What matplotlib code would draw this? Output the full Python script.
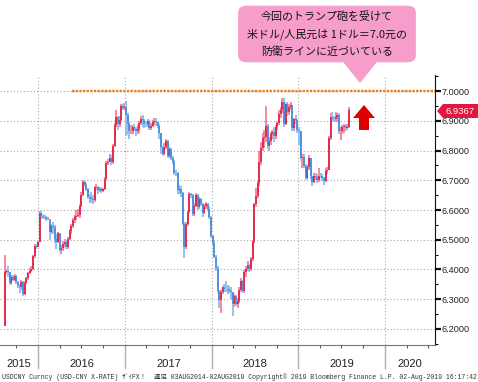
import numpy as np
import pandas as pd
import matplotlib
matplotlib.use('Agg')
from matplotlib import pyplot as plt
from matplotlib.patches import Polygon, FancyBboxPatch
import matplotlib.dates as mdates

# weekly USD/CNY candles, Fridays 14 Aug 2015 .. 2 Aug 2019
weeks = pd.date_range('2015-08-14', '2019-08-02', freq='W-FRI')
first_open = 6.210
close = [
    # 2015
    6.393, 6.394, 6.390, 6.356, 6.376, 6.366, 6.378, 6.357, 6.345, 6.340,
    6.357, 6.318, 6.356, 6.370, 6.389, 6.396, 6.400, 6.445, 6.478, 6.477,
    # 2016
    6.493, 6.590, 6.580, 6.578, 6.576, 6.570, 6.570, 6.525, 6.547, 6.544,
    6.502, 6.492, 6.521, 6.466, 6.472, 6.487, 6.493, 6.476, 6.502, 6.529,
    6.545, 6.565, 6.575, 6.580, 6.582, 6.614, 6.652, 6.693, 6.684, 6.672,
    6.643, 6.645, 6.637, 6.633, 6.678, 6.678, 6.667, 6.669, 6.663, 6.670,
    6.703, 6.759, 6.762, 6.775, 6.761, 6.815, 6.885, 6.912, 6.889, 6.903,
    6.950, 6.944, 6.945,
    # 2017
    6.918, 6.890, 6.867, 6.867, 6.878, 6.873, 6.867, 6.873, 6.894, 6.907,
    6.904, 6.889, 6.888, 6.898, 6.876, 6.884, 6.895, 6.899, 6.895, 6.883,
    6.860, 6.812, 6.790, 6.813, 6.832, 6.780, 6.806, 6.774, 6.763, 6.724,
    6.723, 6.667, 6.672, 6.657, 6.554, 6.475, 6.553, 6.593, 6.653, 6.651,
    6.586, 6.615, 6.651, 6.609, 6.636, 6.621, 6.590, 6.614, 6.621, 6.605,
    6.577, 6.513,
    # 2018
    6.488, 6.443, 6.404, 6.327, 6.296, 6.323, 6.341, 6.335, 6.333, 6.336,
    6.328, 6.325, 6.284, 6.310, 6.284, 6.293, 6.332, 6.362, 6.327, 6.391,
    6.403, 6.416, 6.400, 6.436, 6.491, 6.619, 6.648, 6.690, 6.760, 6.809,
    6.842, 6.844, 6.882, 6.816, 6.833, 6.854, 6.862, 6.850, 6.878, 6.891,
    6.922, 6.936, 6.962, 6.889, 6.956, 6.929, 6.946, 6.954, 6.876, 6.905,
    6.901, 6.868,
    # 2019
    6.864, 6.776, 6.778, 6.749, 6.708, 6.743, 6.774, 6.713, 6.694, 6.715,
    6.711, 6.700, 6.716, 6.713, 6.707, 6.697, 6.732, 6.735, 6.842, 6.914,
    6.906, 6.905, 6.914, 6.918, 6.865, 6.866, 6.879, 6.881, 6.877, 6.880,
    6.937,
]
high = [
    6.450, 6.400, 6.412, 6.392, 6.380, 6.381, 6.385, 6.380, 6.360, 6.352,
    6.365, 6.360, 6.360, 6.375, 6.392, 6.405, 6.412, 6.450, 6.485, 6.485,
    6.497, 6.598, 6.595, 6.585, 6.582, 6.580, 6.575, 6.560, 6.552, 6.560,
    6.548, 6.520, 6.525, 6.520, 6.482, 6.495, 6.502, 6.500, 6.510, 6.535,
    6.552, 6.572, 6.582, 6.600, 6.605, 6.620, 6.660, 6.700, 6.698, 6.690,
    6.675, 6.655, 6.660, 6.650, 6.682, 6.688, 6.682, 6.678, 6.678, 6.675,
    6.710, 6.765, 6.772, 6.790, 6.785, 6.822, 6.892, 6.935, 6.915, 6.915,
    6.958, 6.955, 6.960,
    6.968, 6.925, 6.895, 6.885, 6.885, 6.890, 6.880, 6.885, 6.900, 6.915,
    6.918, 6.905, 6.900, 6.905, 6.902, 6.892, 6.902, 6.908, 6.910, 6.900,
    6.890, 6.860, 6.815, 6.825, 6.840, 6.835, 6.812, 6.810, 6.782, 6.768,
    6.735, 6.728, 6.685, 6.680, 6.660, 6.560, 6.560, 6.600, 6.660, 6.658,
    6.655, 6.625, 6.658, 6.655, 6.645, 6.642, 6.625, 6.620, 6.628, 6.625,
    6.610, 6.580,
    6.515, 6.495, 6.450, 6.410, 6.330, 6.330, 6.345, 6.350, 6.360, 6.348,
    6.345, 6.340, 6.325, 6.318, 6.315, 6.305, 6.340, 6.370, 6.365, 6.398,
    6.410, 6.430, 6.420, 6.442, 6.500, 6.625, 6.675, 6.700, 6.800, 6.830,
    6.860, 6.870, 6.950, 6.890, 6.845, 6.862, 6.870, 6.880, 6.885, 6.900,
    6.935, 6.945, 6.975, 6.975, 6.960, 6.962, 6.955, 6.962, 6.950, 6.910,
    6.920, 6.905,
    6.880, 6.865, 6.790, 6.790, 6.755, 6.750, 6.785, 6.775, 6.715, 6.725,
    6.725, 6.720, 6.740, 6.725, 6.720, 6.712, 6.740, 6.745, 6.850, 6.925,
    6.930, 6.915, 6.930, 6.925, 6.925, 6.880, 6.885, 6.890, 6.888, 6.888,
    6.945,
]
low = [
    6.210, 6.385, 6.375, 6.352, 6.348, 6.360, 6.362, 6.352, 6.338, 6.320,
    6.330, 6.312, 6.315, 6.350, 6.366, 6.385, 6.390, 6.398, 6.440, 6.470,
    6.476, 6.493, 6.570, 6.570, 6.570, 6.562, 6.565, 6.500, 6.520, 6.518,
    6.490, 6.470, 6.488, 6.460, 6.452, 6.462, 6.475, 6.468, 6.470, 6.498,
    6.520, 6.540, 6.555, 6.568, 6.575, 6.572, 6.610, 6.648, 6.680, 6.665,
    6.636, 6.625, 6.625, 6.620, 6.628, 6.668, 6.655, 6.660, 6.658, 6.660,
    6.668, 6.700, 6.750, 6.760, 6.750, 6.755, 6.812, 6.880, 6.870, 6.880,
    6.900, 6.935, 6.935,
    6.850, 6.852, 6.840, 6.855, 6.855, 6.865, 6.850, 6.855, 6.860, 6.885,
    6.880, 6.875, 6.878, 6.880, 6.870, 6.868, 6.880, 6.885, 6.882, 6.875,
    6.840, 6.790, 6.780, 6.785, 6.805, 6.775, 6.775, 6.768, 6.755, 6.718,
    6.715, 6.655, 6.655, 6.645, 6.550, 6.437, 6.470, 6.545, 6.590, 6.640,
    6.580, 6.580, 6.610, 6.600, 6.605, 6.612, 6.575, 6.585, 6.605, 6.600,
    6.570, 6.505,
    6.480, 6.440, 6.395, 6.320, 6.270, 6.255, 6.318, 6.325, 6.325, 6.318,
    6.320, 6.300, 6.243, 6.275, 6.276, 6.270, 6.288, 6.325, 6.320, 6.320,
    6.375, 6.395, 6.393, 6.395, 6.430, 6.488, 6.610, 6.640, 6.680, 6.750,
    6.800, 6.810, 6.830, 6.805, 6.800, 6.820, 6.840, 6.830, 6.840, 6.870,
    6.885, 6.910, 6.925, 6.880, 6.885, 6.915, 6.920, 6.935, 6.865, 6.865,
    6.890, 6.860,
    6.820, 6.765, 6.740, 6.740, 6.700, 6.705, 6.735, 6.705, 6.680, 6.690,
    6.702, 6.690, 6.695, 6.706, 6.698, 6.685, 6.695, 6.720, 6.735, 6.835,
    6.895, 6.895, 6.895, 6.900, 6.855, 6.835, 6.855, 6.860, 6.865, 6.868,
    6.875,
]
last_price = '6.9367'
defence_level = 7.0
defence_start = '2016-05-23'
y_ticks = [6.2, 6.3, 6.4, 6.5, 6.6, 6.7, 6.8, 6.9, 7.0]
years = [2015, 2016, 2017, 2018, 2019, 2020]
bubble_lines = ['今回のトランプ砲を受けて',
                '米ドル/人民元は 1ドル＝7.0元の',
                '防衛ラインに近づいている']
footnote = ('USDCNY Curncy (USD-CNY X-RATE) ｻﾞｲFX！  週足 03AUG2014-02AUG2019 '
            'Copyright© 2019 Bloomberg Finance L.P. 02-Aug-2019 16:17:42')

W, H = 478, 382

def fx(x):
    return x / W

def fy(y):
    return 1 - y / H

close = np.array(close)
high = np.array(high)
low = np.array(low)
opens = np.concatenate([[first_open], close[:-1]])
up = close >= opens

fig = plt.figure(figsize=(W / 100, H / 100), dpi=100)
ax = fig.add_axes([0, fy(345), fx(435), (345 - 75) / H])
x0, x1 = pd.Timestamp('2015-07-25'), pd.Timestamp('2020-07-29')
ax.set_xlim(x0, x1)
ax.set_ylim(6.146, 7.054)

grid = dict(color='#a8a8a8', lw=0.8, ls=(0, (1, 2)), zorder=1)
for v in y_ticks:
    ax.axhline(v, **grid)
for yr in years[1:]:
    d = pd.Timestamp(f'{yr}-01-01')
    ax.axvline(d, **grid)
    ax.axvline(d, ymin=-0.085, ymax=0, color='#b0b0b0', lw=1.0, clip_on=False)

ax.hlines(defence_level, pd.Timestamp(defence_start), x1, color='#ee7d1e',
          lw=1.7, ls=(0, (1, 0.55)), zorder=3)

# candles: light wick, darker body
ax.vlines(weeks[up], low[up], high[up], color='#f28aa0', lw=1.4, zorder=4)
ax.vlines(weeks[~up], low[~up], high[~up], color='#92c2f0', lw=1.4, zorder=4)
ax.vlines(weeks[up], opens[up], close[up], color='#e0103c', lw=1.1, zorder=5)
ax.vlines(weeks[~up], opens[~up], close[~up], color='#3d85dc', lw=1.1, zorder=5)

for s in ['left', 'top']:
    ax.spines[s].set_visible(False)
ax.spines['right'].set_color('#111111')
ax.spines['bottom'].set_color('#777777')
ax.yaxis.tick_right()
ax.set_yticks(y_ticks)
ax.set_yticklabels([f'{v:.4f}' for v in y_ticks])
ax.set_yticks(np.arange(6.15, 7.06, 0.1), minor=True)
ax.tick_params(axis='y', which='major', length=4, width=1.6, pad=1,
               labelsize=6.6, labelcolor='#222222', color='#111111')
ax.tick_params(axis='y', which='minor', length=2.5, width=0.8, color='#111111')
for lab in ax.get_yticklabels():
    lab.set_fontfamily('Liberation Sans')

ax.xaxis.set_major_locator(mdates.MonthLocator(bymonth=[1, 4, 7, 10]))
ax.xaxis.set_major_formatter(plt.NullFormatter())
ax.tick_params(axis='x', length=2.5, width=0.8, color='#555555')

for yr in years:
    a = max(pd.Timestamp(f'{yr}-01-01'), x0)
    b = min(pd.Timestamp(f'{yr + 1}-01-01'), x1)
    mid = a + (b - a) / 2
    ax.text(mid, -0.072, str(yr), transform=ax.get_xaxis_transform(),
            ha='center', va='center', fontsize=8, family='Liberation Sans',
            color='#222222')

fig.text(fx(2), fy(377), footnote, ha='left', va='center', fontsize=4.7,
         family=['Liberation Mono', 'Noto Sans CJK JP'], color='#333333')

# speech bubble
pink = '#f79dcc'
fig.patches.append(FancyBboxPatch((fx(241), fy(60)), fx(172), (60 - 8) / H,
                                  boxstyle='round,pad=0.006,rounding_size=0.018',
                                  transform=fig.transFigure, fc=pink, ec='none'))
fig.patches.append(Polygon([(fx(343), fy(62)), (fx(377), fy(62)), (fx(360), fy(83))],
                           closed=True, transform=fig.transFigure, fc=pink, ec='none'))
for i, line in enumerate(bubble_lines):
    fig.text(fx(327), fy(17 + 17 * i), line, ha='center', va='center',
             fontsize=7.9, family=['Noto Sans CJK JP', 'DejaVu Sans'], color='#111111')

# up arrow
fig.patches.append(Polygon([(fx(353), fy(118)), (fx(364), fy(105)), (fx(375), fy(118)),
                            (fx(369), fy(118)), (fx(369), fy(130)), (fx(359), fy(130)),
                            (fx(359), fy(118))],
                           closed=True, transform=fig.transFigure, fc='#e00000', ec='none'))

# last price tag
fig.patches.append(Polygon([(fx(437), fy(111)), (fx(443), fy(104)), (fx(478), fy(104)),
                            (fx(478), fy(118)), (fx(443), fy(118))],
                           closed=True, transform=fig.transFigure, fc='#e5163d', ec='none',
                           zorder=10))
fig.text(fx(460), fy(111), last_price, ha='center', va='center', fontsize=6.8,
         family='Liberation Sans', color='white', zorder=11)

fig.savefig('out.png', dpi=100)
